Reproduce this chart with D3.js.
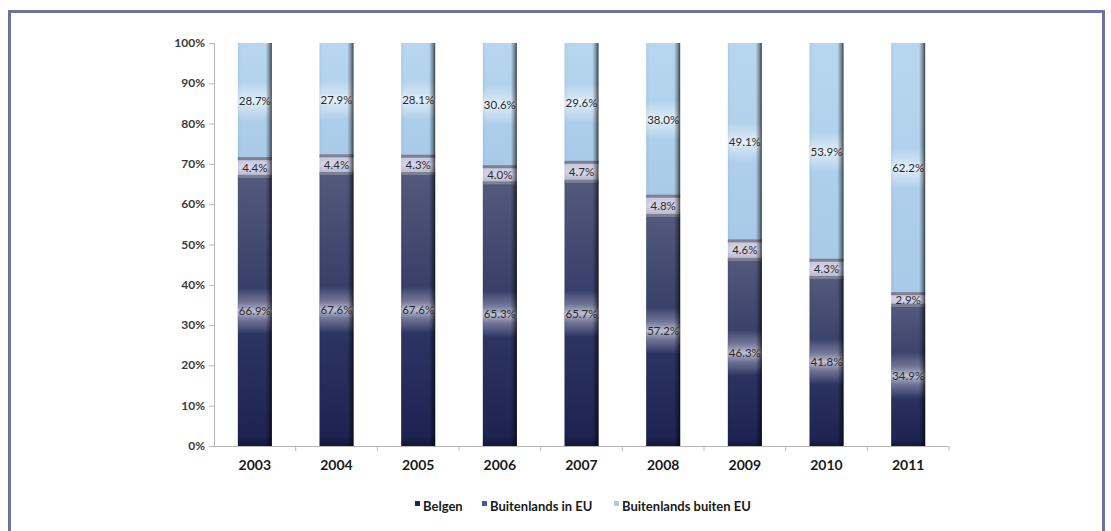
<!DOCTYPE html>
<html><head><meta charset="utf-8">
<script src="https://cdn.jsdelivr.net/npm/d3@7"></script>
<style>
html,body{margin:0;padding:0;background:#fff;}
svg{display:block;font-family:Lato,"Open Sans",sans-serif;}
</style></head>
<body>
<svg id="chart" width="1111" height="531"></svg>
<script>
const years = ["2003","2004","2005","2006","2007","2008","2009","2010","2011"];
const belgen = [66.9,67.6,67.6,65.3,65.7,57.2,46.3,41.8,34.9];
const inEU = [4.4,4.4,4.3,4.0,4.7,4.8,4.6,4.3,2.9];
const buitenEU = [28.7,27.9,28.1,30.6,29.6,38.0,49.1,53.9,62.2];
const seriesNames = ["Belgen","Buitenlands in EU","Buitenlands buiten EU"];
const yTicks = [0,10,20,30,40,50,60,70,80,90,100];

const svg = d3.select("#chart");
const defs = svg.append("defs");

svg.append("rect").attr("x",9.5).attr("y",11.5).attr("width",1094).attr("height",540)
  .attr("fill","none").attr("stroke","#6b74a1").attr("stroke-width",3);

const x = d3.scaleBand().domain(years).range([214,949]).paddingInner(0).paddingOuter(0);
const y = d3.scaleLinear().domain([0,100]).range([446,43]);
const barW = 34;

function vgrad(id, stops){
  const g = defs.append("linearGradient").attr("id",id).attr("x1",0).attr("y1",1).attr("x2",0).attr("y2",0);
  stops.forEach(s=>g.append("stop").attr("offset",s[0]).attr("stop-color",s[1]).attr("stop-opacity",s[2]===undefined?1:s[2]));
}
vgrad("gBelgen",[[0,"#13173c"],[0.04,"#1e2452"],[0.4,"#2c3461"],[1,"#535a7d"]]);
vgrad("gEU",[[0,"#b4b4d0"],[0.5,"#d6d6ea"],[1,"#c4c4dc"]]);
vgrad("gBuiten",[[0,"#a8cae8"],[1,"#b8d6ef"]]);
vgrad("gGlowDark",[[0,"#c8c8dc",0],[0.3,"#b8b8d0",0.45],[0.5,"#d8d8e8",0.85],[0.7,"#b8b8d0",0.45],[1,"#c8c8dc",0]]);
vgrad("gGlowLight",[[0,"#fff",0],[0.35,"#fff",0.4],[0.5,"#fff",0.7],[0.65,"#fff",0.4],[1,"#fff",0]]);
const hg = defs.append("linearGradient").attr("id","gEdge").attr("x1",0).attr("y1",0).attr("x2",1).attr("y2",0);
[[0,"#000",0.05],[0.1,"#000",0],[0.82,"#000",0],[0.93,"#000",0.35],[1,"#000",0.7]].forEach(s=>
  hg.append("stop").attr("offset",s[0]).attr("stop-color",s[1]).attr("stop-opacity",s[2]));

const fills = ["url(#gBelgen)","url(#gEU)","url(#gBuiten)"];
const data = years.map((yr,i)=>({year:yr, vals:[belgen[i],inEU[i],buitenEU[i]]}));

const axisColor = "#b7b7b7";
svg.append("line").attr("x1",214.5).attr("x2",214.5).attr("y1",y(100)).attr("y2",y(0)).attr("stroke",axisColor);
svg.append("line").attr("x1",214).attr("x2",949).attr("y1",y(0)+0.5).attr("y2",y(0)+0.5).attr("stroke",axisColor);
yTicks.forEach(t=>{
  svg.append("line").attr("x1",209).attr("x2",214).attr("y1",y(t)+0.5).attr("y2",y(t)+0.5).attr("stroke",axisColor);
  svg.append("text").attr("x",205).attr("y",y(t)+4).attr("text-anchor","end")
    .attr("font-size",12).attr("font-weight","bold").attr("fill","#3a3a3a").text(t+"%");
});
years.forEach((yr,i)=>{
  const bx = x(yr)+x.bandwidth();
  svg.append("line").attr("x1",bx).attr("x2",bx).attr("y1",y(0)).attr("y2",y(0)+5).attr("stroke",axisColor);
  svg.append("text").attr("x",x(yr)+x.bandwidth()/2).attr("y",470).attr("text-anchor","middle")
    .attr("font-size",14).attr("font-weight","bold").attr("fill","#1a1a1a").text(yr);
});

data.forEach((d,i)=>{
  const cx = x(d.year)+x.bandwidth()/2;
  const x0 = cx - barW/2;
  const g = svg.append("g");
  let cum = 0;
  const segs = d.vals.map((v,k)=>{const s={k,v,lo:cum,hi:cum+v}; cum+=v; return s;});
  segs.forEach(s=>{
    const top = (s.k===2)? y(100) : y(s.hi);
    g.append("rect").attr("x",x0).attr("y",top).attr("width",barW).attr("height",y(s.lo)-top)
      .attr("fill",fills[s.k]);
    if(s.k!==1){
      const ym = y((s.lo+s.hi)/2);
      const h = s.k===0 ? 46 : 40;
      g.append("rect").attr("x",x0).attr("y",ym-h/2).attr("width",barW).attr("height",h)
        .attr("fill", s.k===0 ? "url(#gGlowDark)" : "url(#gGlowLight)");
    }
  });
  [segs[0].hi, segs[1].hi].forEach(b=>{
    g.append("rect").attr("x",x0).attr("y",y(b)-1.5).attr("width",barW).attr("height",3)
      .attr("fill","#7c8090");
  });
  g.append("rect").attr("x",x0).attr("y",y(100)).attr("width",barW).attr("height",y(0)-y(100))
    .attr("fill","url(#gEdge)");
  segs.forEach(s=>{
    const ym = y((s.lo+s.hi)/2);
    g.append("text").attr("x",cx).attr("y",ym+4).attr("text-anchor","middle")
      .attr("font-size",11.5).attr("fill","#2a2a2a").text(s.v.toFixed(1)+"%");
  });
});

const legX = [415,482,614];
const legColors = ["#1e2452","#3d5a9c","#a9cbe8"];
seriesNames.forEach((n,k)=>{
  svg.append("rect").attr("x",legX[k]).attr("y",501).attr("width",5).attr("height",5).attr("fill",legColors[k]);
  svg.append("text").attr("x",legX[k]+8).attr("y",511).attr("font-size",13).attr("font-weight","bold")
    .attr("fill","#1a1a1a").text(n);
});
</script>
</body></html>
